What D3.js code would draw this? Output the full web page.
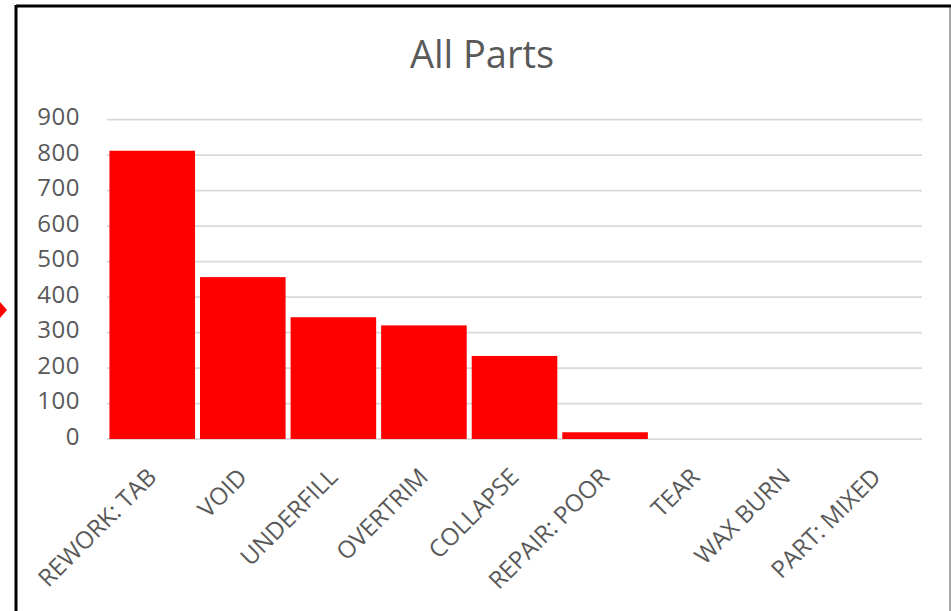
<!DOCTYPE html>
<html>
<head>
<meta charset="utf-8">
<script src="https://cdn.jsdelivr.net/npm/d3@7"></script>
<style>
  body { margin: 0; background: #fff; }
  text { font-family: "Open Sans", sans-serif; fill: #595959; }
</style>
</head>
<body>
<div id="chart"></div>
<script>
const categories = ["REWORK: TAB", "VOID", "UNDERFILL", "OVERTRIM", "COLLAPSE",
                    "REPAIR: POOR", "TEAR", "WAX BURN", "PART: MIXED"];
const counts = [812, 456, 343, 320, 234, 19, 0, 0, 0];
const yTicks = [0, 100, 200, 300, 400, 500, 600, 700, 800, 900];

const w = 951, h = 611;
const plotLeft = 107, plotRight = 922, plotTop = 119.5, plotBottom = 439;

const svg = d3.select("#chart").append("svg")
  .attr("width", w)
  .attr("height", h);

// chart frame
svg.append("line").attr("x1", 950).attr("x2", 950).attr("y1", 6).attr("y2", h)
   .attr("stroke", "#a6a6a6").attr("stroke-width", 2);
svg.append("line").attr("x1", 16).attr("x2", 951).attr("y1", 6).attr("y2", 6)
   .attr("stroke", "#000").attr("stroke-width", 3);
svg.append("line").attr("x1", 16).attr("x2", 16).attr("y1", 5).attr("y2", h)
   .attr("stroke", "#000").attr("stroke-width", 3);
// stray red marker on the left edge
svg.append("path").attr("d", "M-8,310 L0,302 L7,310 L0,318 Z").attr("fill", "#ff0000");

const xScale = d3.scaleBand()
  .domain(categories)
  .range([plotLeft, plotRight])
  .paddingInner(0.055)
  .paddingOuter(0.027);

const yScale = d3.scaleLinear()
  .domain([0, 900])
  .range([plotBottom, plotTop]);

// gridlines
svg.append("g")
  .selectAll("line")
  .data(yTicks)
  .enter()
  .append("line")
  .attr("x1", plotLeft)
  .attr("x2", plotRight)
  .attr("y1", d => yScale(d))
  .attr("y2", d => yScale(d))
  .attr("stroke", "#d9d9d9")
  .attr("stroke-width", 1.75);

svg.selectAll("rect.bar")
  .data(categories)
  .enter()
  .append("rect")
  .attr("class", "bar")
  .attr("x", d => xScale(d))
  .attr("y", (d, i) => yScale(counts[i]))
  .attr("width", xScale.bandwidth())
  .attr("height", (d, i) => plotBottom - yScale(counts[i]))
  .attr("fill", "#ff0000");

// y axis labels
const yAxis = d3.axisLeft(yScale).tickValues(yTicks).tickSize(0).tickPadding(0);
const gy = svg.append("g")
  .attr("transform", "translate(80,0)")
  .call(yAxis);
gy.select(".domain").remove();
gy.selectAll("text")
  .attr("font-family", null)
  .style("font-size", "24px")
  .style("letter-spacing", "0.5px")
  .attr("y", -3)
  .attr("dy", "0.35em");

// x axis labels
const xAxis = d3.axisBottom(xScale).tickSize(0).tickPadding(0);
const gx = svg.append("g")
  .attr("transform", "translate(0," + plotBottom + ")")
  .call(xAxis);
gx.select(".domain").remove();
gx.selectAll("text")
  .attr("font-family", null)
  .style("font-size", "24px")
  .style("text-anchor", "end")
  .attr("x", -24)
  .attr("y", 32)
  .attr("dy", 0)
  .attr("transform", "rotate(-45)");

// title
svg.append("text")
  .attr("x", 482)
  .attr("y", 68)
  .attr("text-anchor", "middle")
  .style("font-size", "38px")
  .text("All Parts");
</script>
</body>
</html>
